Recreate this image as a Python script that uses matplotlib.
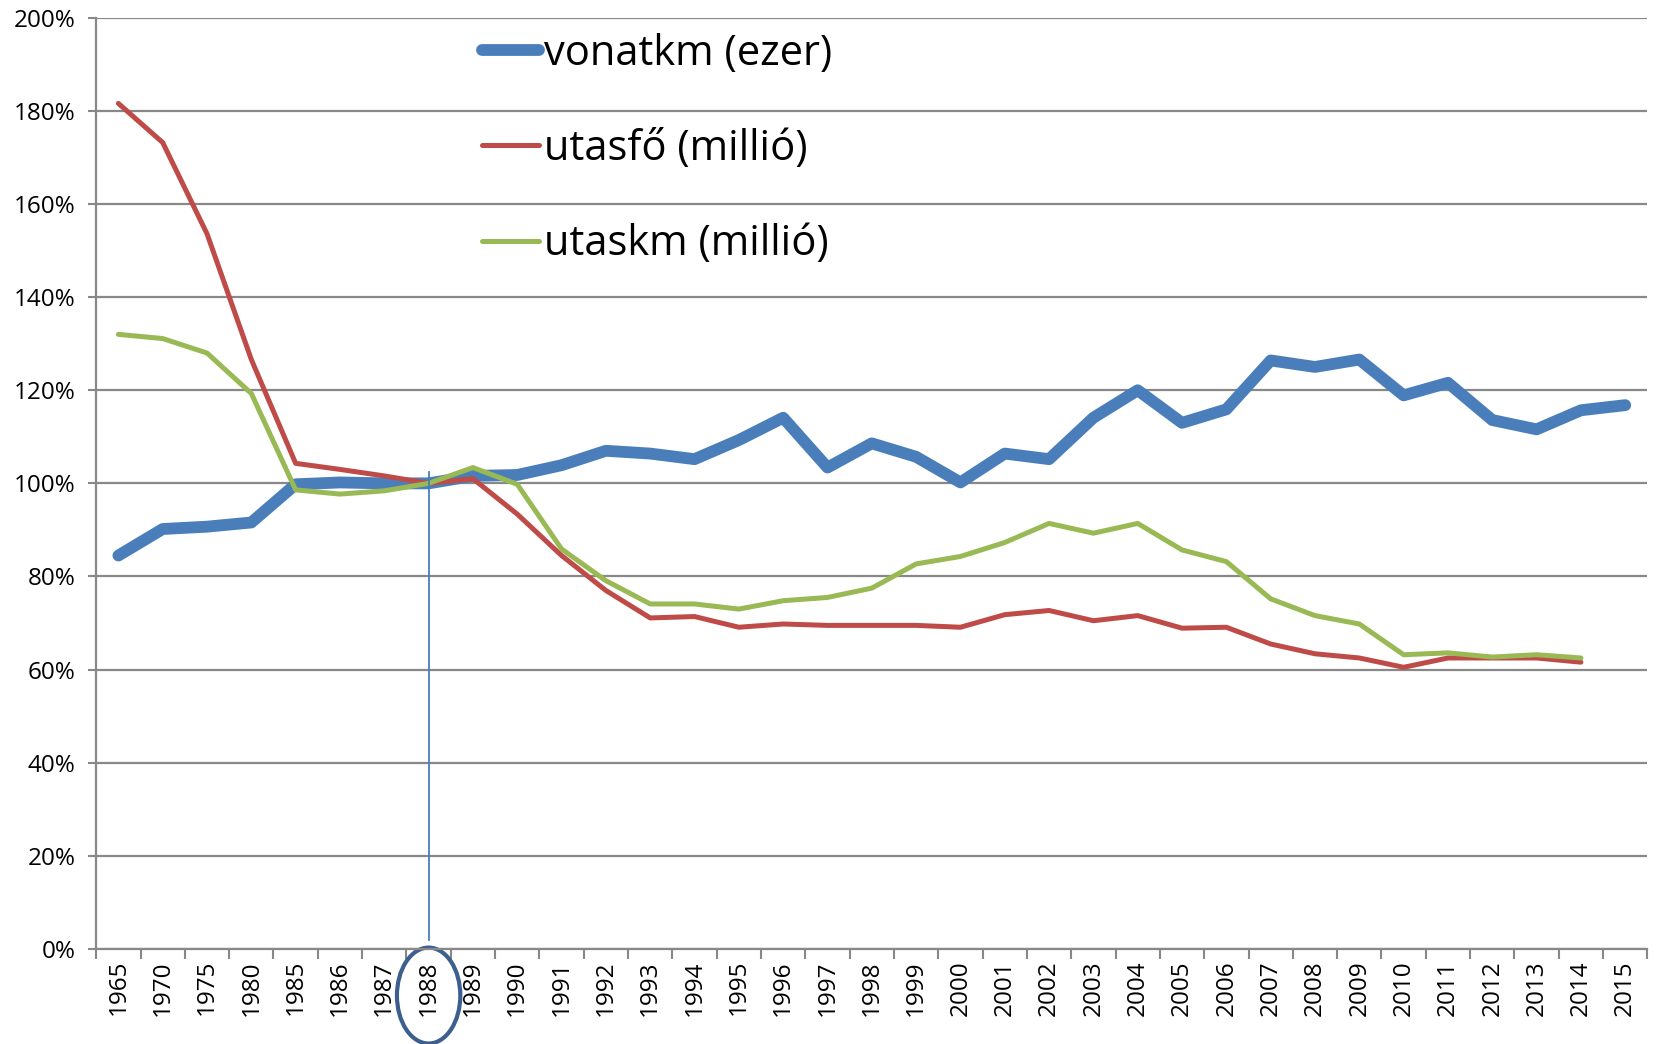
import matplotlib
matplotlib.use('Agg')
import matplotlib.pyplot as plt
import matplotlib.transforms as mtransforms
from matplotlib.patches import Ellipse

plt.rcParams['font.family'] = ['Open Sans', 'DejaVu Sans']

# years on the category axis
years = ['1965', '1970', '1975', '1980', '1985', '1986', '1987', '1988', '1989', '1990',
         '1991', '1992', '1993', '1994', '1995', '1996', '1997', '1998', '1999', '2000',
         '2001', '2002', '2003', '2004', '2005', '2006', '2007', '2008', '2009', '2010',
         '2011', '2012', '2013', '2014', '2015']

# values in percent, 1988 = 100%
vonatkm = [84.5, 90.2, 90.7, 91.6, 99.8, 100.2, 100.0, 100.0, 101.6, 101.8,
           103.9, 107.0, 106.4, 105.2, 109.3, 114.1, 103.4, 108.6, 105.7, 100.2,
           106.4, 105.2, 114.1, 120.0, 113.0, 115.9, 126.4, 125.0, 126.6, 118.9,
           121.6, 113.6, 111.6, 115.7, 116.8]
utasfo = [181.6, 173.2, 153.6, 126.6, 104.3, 103.0, 101.6, 100.0, 101.0, 93.4,
          84.5, 77.0, 71.1, 71.4, 69.1, 69.8, 69.5, 69.5, 69.5, 69.1,
          71.8, 72.7, 70.5, 71.6, 68.9, 69.1, 65.5, 63.4, 62.5, 60.5,
          62.5, 62.5, 62.5, 61.6]
utaskm = [132.0, 131.1, 128.0, 119.3, 98.6, 97.7, 98.4, 100.0, 103.4, 99.8,
          85.9, 79.1, 74.1, 74.1, 73.0, 74.8, 75.5, 77.5, 82.7, 84.3,
          87.3, 91.4, 89.3, 91.4, 85.7, 83.2, 75.2, 71.6, 69.8, 63.2,
          63.6, 62.7, 63.2, 62.5]

labels = ['vonatkm (ezer)', 'utasfő (millió)', 'utaskm (millió)']
colors = ['#4a7ebb', '#be4b48', '#98b954']
ref_year = '1988'

fig = plt.figure(figsize=(16.59, 10.44), dpi=100)
ax = fig.add_axes([0.058, 0.091, 0.935, 0.892])

x = list(range(len(years)))
ax.plot(x, vonatkm, color=colors[0], lw=8.5, solid_capstyle='round',
        solid_joinstyle='round', label=labels[0], zorder=3)
ax.plot(x[:len(utasfo)], utasfo, color=colors[1], lw=3.6, solid_capstyle='round',
        solid_joinstyle='round', label=labels[1], zorder=4)
ax.plot(x[:len(utaskm)], utaskm, color=colors[2], lw=3.6, solid_capstyle='round',
        solid_joinstyle='round', label=labels[2], zorder=5)

# marker line at the reference year
ri = years.index(ref_year)
ax.plot([ri, ri], [2, 102.5], color='#4a7ebb', lw=1.3, zorder=6)

ax.set_xlim(-0.5, len(years) - 0.5)
ax.set_ylim(0, 200)
ax.set_yticks(range(0, 201, 20))
ax.set_yticklabels([f'{v}%' for v in range(0, 201, 20)], fontsize=17.5)
ax.set_xticks(x)
ax.set_xticklabels(years, rotation=90, fontsize=17.5)
ax.set_xticks([i - 0.5 for i in range(len(years) + 1)], minor=True)
ax.tick_params(axis='x', which='major', length=0, pad=8)
ax.tick_params(axis='x', which='minor', length=7, width=1.5, color='#888888')
ax.tick_params(axis='y', length=6, width=1.5, color='#888888', pad=9)

ax.grid(axis='y', color='#888888', lw=1.6)
ax.set_axisbelow(True)
for s in ['top', 'right']:
    ax.spines[s].set_visible(False)
for s in ['left', 'bottom']:
    ax.spines[s].set_color('#888888')
    ax.spines[s].set_linewidth(1.6)

# circle around the reference year label
trans = mtransforms.blended_transform_factory(ax.transData, ax.transAxes)
ell = Ellipse((ri, -0.05), 1.43, 0.103, transform=trans, fill=False,
              edgecolor='#3d5f8f', lw=3, clip_on=False)
ax.add_patch(ell)

ax.legend(loc='upper left', bbox_to_anchor=(0.249, 0.984), frameon=False,
          fontsize=30, handlelength=1.35, handletextpad=0.12, labelspacing=1.28,
          borderpad=0, borderaxespad=0)

fig.savefig('out.png', dpi=100)
